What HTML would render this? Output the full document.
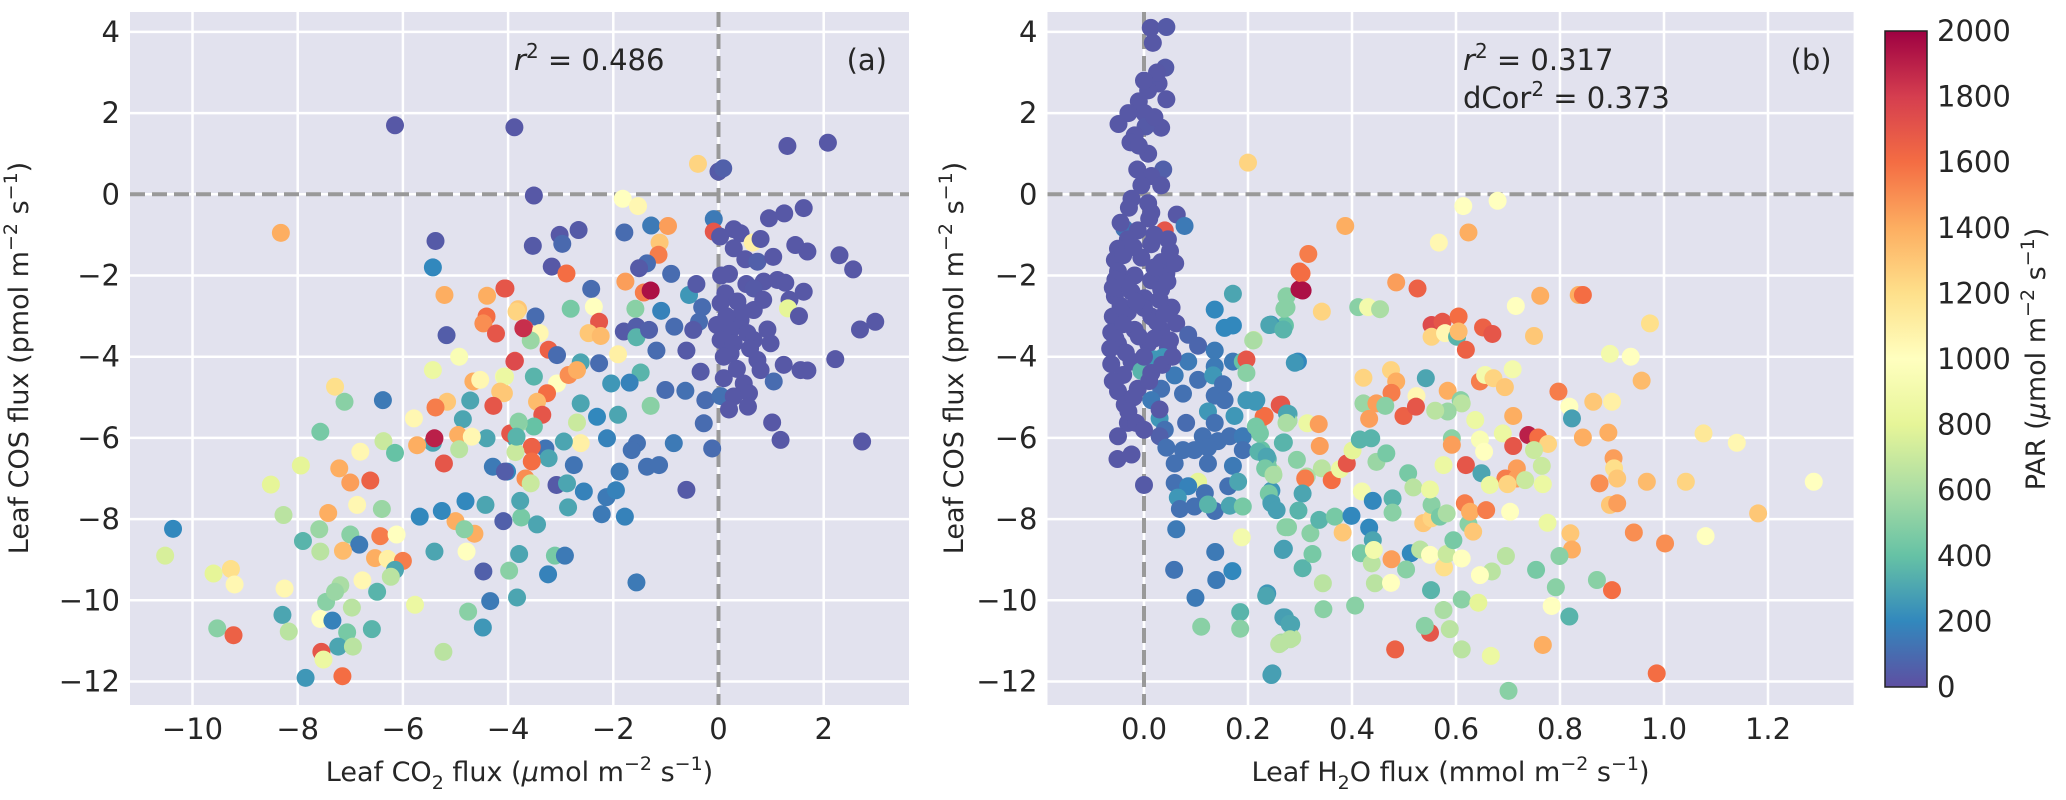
<!DOCTYPE html>
<html><head><meta charset="utf-8"><style>
html,body{margin:0;padding:0;background:#fff;}
svg text{font-family:"DejaVu Sans","Liberation Sans",sans-serif;fill:#262626;}
</style></head><body>
<svg id="chart" xmlns="http://www.w3.org/2000/svg" width="2066" height="795" viewBox="0 0 2066 795">
<defs>
<linearGradient id="cbgrad" x1="0" y1="1" x2="0" y2="0">
<stop offset="0" stop-color="#5e4fa2"/><stop offset="0.1" stop-color="#3288bd"/><stop offset="0.2" stop-color="#66c2a5"/><stop offset="0.3" stop-color="#abdda4"/><stop offset="0.4" stop-color="#e6f598"/><stop offset="0.5" stop-color="#ffffbf"/><stop offset="0.6" stop-color="#fee08b"/><stop offset="0.7" stop-color="#fdae61"/><stop offset="0.8" stop-color="#f46d43"/><stop offset="0.9" stop-color="#d53e4f"/><stop offset="1" stop-color="#9e0142"/>
</linearGradient>
</defs>
<g id="panelA"></g>
<g id="panelB"></g>
<g id="cbar"></g>
</svg>
<script>
const yTicks=[4,2,0,-2,-4,-6,-8,-10,-12];
const yTickLabels=["4","2","0","−2","−4","−6","−8","−10","−12"];
const aXTicks=[-10,-8,-6,-4,-2,0,2];
const aXTickLabels=["−10","−8","−6","−4","−2","0","2"];
const bXTicks=[0,0.2,0.4,0.6,0.8,1.0,1.2];
const bXTickLabels=["0.0","0.2","0.4","0.6","0.8","1.0","1.2"];
const cbTicks=[0,200,400,600,800,1000,1200,1400,1600,1800,2000];
const cbTickLabels=["0","200","400","600","800","1000","1200","1400","1600","1800","2000"];

const aX=[-6.15,-3.88,-3.51,-0.39,0,0.09,1.31,2.08,-1.82,-1.53,-0.09,-0.09,-1.28,-0.96,-1.79,-1.12,-1.14,-1.36,-1.51,-0.9,-3.53,-3.02,-2.97,-2.66,-3.17,-2.89,-4.05,-2.42,-2.81,-2.37,-2.27,-2.47,-2.24,-3.81,-3.48,-3.69,-3.40,-3.57,-3.23,-3.07,-3.87,-1.77,-1.42,-1.29,-1.58,-1.09,-1.80,-1.56,-1.56,-1.32,-0.84,-0.56,-0.42,-0.31,-0.37,-0.48,-1.18,-1.91,-0.61,-2.27,-2.62,-1.48,-2.04,-1.69,-1.01,-0.63,-0.34,-0.25,0.04,-0.28,-0.12,-0.85,-1.29,-1.91,-2.31,-2.62,-2.69,-2.62,-2.12,-1.55,-1.65,-1.88,-1.36,-1.13,-0.61,-3.08,-2.88,-2.56,-2.94,-3.29,-3.23,-2.75,-3.51,-3.07,-3.26,-3.45,-2.85,-2.69,-4.08,-4.08,-3.35,-3.51,-3.8,-3.86,-3.55,-3.55,-3.86,-4.02,-3.67,-3.57,
0.29,0.42,0.03,0.96,1.25,1.62,0.65,1.46,1.69,0.29,0.51,0.74,1.04,2.56,0.20,0.53,0.86,1.12,1.27,0.67,1.62,1.35,1.32,1.53,0.13,0.36,0.04,0.67,0.42,-0.03,0.23,0.55,0.93,0.04,0.29,0.67,0.99,0.23,0.74,1.24,1.56,1.69,0.80,0.48,1.05,0.10,0.29,0.58,0.56,1.02,1.18,2.22,2.69,2.98,2.73,0.15,0.45,0.1,0.35,0.6,0.85,0.2,0.05,0.8,2.3,
-8.32,-5.38,-5.43,-5.21,-4.40,-4.07,-3.84,-4.41,-4.47,-4.23,-5.17,-3.71,-4.93,-3.88,-5.43,-4.66,-4.53,-4.06,-4.15,-4.28,-4.72,-5.16,-5.38,-4.86,-5.79,-7.29,-7.11,-6.38,-7.57,-4.41,-4.95,-4.69,-3.96,-3.80,-3.84,-5.43,-5.40,-6.37,-6.15,-5.73,-6.81,-7.94,-7.21,-4.93,-5.22,-4.29,-4.06,
-7.0,-6.62,-8.51,-7.42,-6.87,-6.40,-8.27,-10.37,-7.59,-7.9,-7.57,-7.0,-6.83,-7.14,-6.43,-6.12,-6.53,-6.29,-6.0,-6.15,-6.23,-10.52,-9.6,-9.27,-9.2,-8.25,-8.29,-8.17,-9.53,-9.22,-7.46,-7.19,-7.29,-6.97,-7.57,-7.34,-7.06,-6.59,-7.23,-6.95,-7.55,-7.51,-7.85,-7.15,-6.77,-6.49,-5.77,-4.76,-4.48,-5.23,-4.34,-3.83,-4.47,-3.98,-4.79,-5.4,-3.79,-3.24,-3.11,-2.92,-1.56,-4.09,-3.75,-3.45,-4.64,-5.0,-4.83,-5.68,-5.26,-4.81,-4.43,-3.77,-2.86,-2.22,-1.78,-2.13,-1.95];
const aY=[1.7,1.65,-0.03,0.75,0.56,0.64,1.19,1.27,-0.11,-0.29,-0.61,-0.92,-0.77,-0.78,-0.94,-1.19,-1.49,-1.70,-1.82,-1.96,-1.27,-1.0,-1.22,-0.88,-1.78,-1.95,-2.32,-2.33,-2.82,-2.77,-3.14,-3.42,-3.49,-2.83,-3.01,-3.30,-3.42,-3.60,-3.83,-3.96,-4.1,-2.15,-2.42,-2.37,-2.82,-2.87,-3.38,-3.26,-3.52,-3.34,-3.26,-2.48,-2.21,-2.78,-3.14,-3.34,-3.85,-3.94,-3.85,-4.16,-4.14,-4.39,-4.66,-4.64,-4.82,-4.84,-4.37,-5.07,-4.97,-5.64,-6.26,-6.13,-5.21,-5.43,-5.48,-5.15,-5.62,-6.13,-6.01,-6.13,-6.30,-6.83,-6.71,-6.67,-7.28,-7.16,-7.12,-7.32,-6.09,-6.26,-6.50,-6.67,-4.49,-4.66,-4.90,-5.11,-4.45,-4.33,-4.49,-4.9,-5.43,-5.72,-5.64,-6.01,-6.22,-6.58,-6.35,-6.83,-7.0,-7.12,
-0.86,-0.96,-1.04,-0.59,-0.47,-0.34,-1.19,-1.25,-1.41,-1.33,-1.6,-1.66,-1.54,-1.85,-1.96,-2.21,-2.15,-2.11,-2.18,-2.32,-2.4,-2.6,-2.81,-3.0,-2.44,-2.64,-2.68,-2.85,-3.1,-3.22,-3.34,-3.42,-3.33,-3.59,-3.67,-3.59,-3.67,-3.92,-4.08,-4.2,-4.33,-4.34,-4.33,-4.66,-4.61,-4.53,-4.98,-4.9,-5.23,-5.62,-6.05,-4.06,-3.33,-3.14,-6.09,-3.0,-2.9,-4.0,-4.3,-3.8,-2.6,-5.3,-2.0,-1.1,-1.5,
-0.95,-1.15,-1.8,-2.48,-2.5,-2.32,-2.89,-3.01,-3.18,-3.43,-3.47,-3.3,-4.0,-4.12,-4.33,-4.61,-4.57,-4.49,-4.86,-5.21,-5.08,-5.11,-5.25,-5.54,-5.52,-4.74,-5.11,-5.07,-5.85,-6.01,-5.93,-5.97,-5.89,-5.60,-5.97,-6.12,-6.01,-6.08,-6.37,-6.18,-6.34,-6.68,-6.75,-6.28,-6.63,-6.71,-6.83,
-7.1,-7.05,-7.15,-7.85,-7.65,-7.75,-7.9,-8.24,-8.25,-8.54,-8.8,-8.38,-8.63,-8.78,-8.42,-8.38,-8.96,-8.98,-9.03,-9.25,-9.42,-8.9,-9.34,-9.23,-9.61,-9.71,-10.36,-10.77,-10.69,-10.86,-10.04,-9.63,-9.79,-10.18,-10.46,-10.5,-10.79,-10.71,-11.14,-11.14,-11.27,-11.46,-11.91,-11.87,-9.51,-9.79,-10.11,-10.28,-10.67,-11.27,-10.02,-9.93,-9.29,-9.27,-8.80,-8.80,-8.86,-9.36,-8.90,-8.90,-9.56,-8.05,-7.96,-8.13,-8.36,-8.05,-8.25,-7.94,-7.80,-7.56,-7.65,-7.55,-7.71,-7.88,-7.94,-7.46,-7.29];
const aPAR=[30,30,30,1250,40,60,30,30,1000,1050,150,1700,150,1450,100,1300,1550,100,40,100,40,30,90,40,30,1600,1700,100,450,1000,1700,1300,1350,1300,100,1750,1050,550,1650,100,1700,1450,1550,1950,500,180,40,50,350,60,100,250,40,100,100,40,100,1100,40,100,300,350,250,180,100,120,40,100,120,100,100,150,500,300,200,300,700,1100,180,120,120,150,120,120,40,40,300,180,300,130,300,130,350,1000,1600,1350,1500,1400,900,1300,1700,400,550,300,1650,1600,700,200,1500,700,
30,30,30,30,30,30,1100,30,30,30,30,60,30,30,30,30,30,30,30,40,30,30,800,30,30,30,30,30,30,30,30,30,30,30,30,30,30,30,30,30,30,30,30,30,100,30,30,30,30,30,30,30,30,30,30,30,30,30,30,30,30,30,30,30,30,
1400,40,200,1400,1400,1700,1250,1600,1500,1700,50,1850,950,1750,850,1400,1050,850,1300,1700,300,1300,1550,300,1050,1200,500,150,450,300,1400,1050,1700,500,350,300,1900,700,400,1400,1050,800,1400,650,1700,150,50,
1450,1650,800,1400,1050,550,650,200,550,350,650,500,150,1350,1550,1000,1400,1100,1550,300,650,750,800,1200,1050,1050,300,650,500,1650,500,600,550,650,1000,180,450,350,300,650,1700,850,250,1600,1050,350,850,500,250,650,150,300,60,500,1000,300,300,180,450,150,150,60,450,300,1400,1400,500,200,200,200,300,300,300,150,180,150,180];

const bX=[0.013,0.043,0.017,0.041,0.028,0.008,0.043,-0.010,0.001,-0.049,0.033,0.003,-0.018,-0.026,0.008,-0.013,0.037,0.014,-0.005,0.033,-0.024,0.008,-0.029,0.014,0.063,0.078,-0.038,0.04,-0.012,0.046,-0.031,-0.05,0.014,-0.056,-0.005,0.033,-0.05,-0.018,0.043,0.014,-0.056,-0.024,0.033,0.001,0.053,-0.06,-0.031,0.014,0.062,-0.063,-0.018,0.033,0.085,0.104,-0.05,0.008,0.046,0.136,-0.063,-0.024,0.021,0.037,-0.005,0.014,0.085,0.136,0.171,0.059,0.104,0.133,0.152,-0.05,-0.012,0.033,0.075,0.136,0.155,-0.037,0.014,0.197,0.216,0.123,0.174,0.03,-0.031,-0.015,0.081,0.136,0.04,-0.05,0.03,0.113,0.142,0.165,0.19,0.043,0.075,0.097,0.123,0.19,-0.051,-0.024,0.059,0.123,0.171,0.238,0.226,0.248,0.104,0.059,0,0.085,0.162,0.181,0.117,0.065,0.069,0.097,0.136,0.165,0.19,0.245,0.123,0.19,0.197,0.197,0.171,0.136,0.155,0.171,0.211,0.2,0.188,0.062,0.137,0.058,0.139,0.17,0.099,0.11,0.185,0.185,0.237,0.271,0.283,0.264,0.285,0.247,0.269,0.277,0.269,0.271,0.274,0.274,0.244,0.299,0.299,0.264,0.232,0.219,0.278,0.278,0.296,0.238,0.245,
-0.04,0.02,-0.035,0.03,-0.045,0.0,0.025,-0.04,-0.01,0.02,-0.055,-0.035,0.0,0.035,-0.04,0.01,-0.02,0.03,-0.055,0.045,-0.015,0.05,-0.02,0.02,-0.06,0.055,-0.03,0.0,-0.065,0.04,0.06,-0.06,0.01,-0.01,0.02,-0.03,0.025,0.0,-0.045,0.05,
0.387,0.316,0.303,0.305,0.27,0.342,0.241,0.268,0.21,0.29,0.412,0.431,0.454,0.485,0.526,0.567,0.614,0.68,0.624,0.553,0.574,0.605,0.553,0.579,0.602,0.605,0.619,0.652,0.67,0.715,0.75,0.762,0.836,0.422,0.475,0.485,0.476,0.524,0.542,0.584,0.609,0.611,0.584,0.56,0.422,0.447,0.464,0.499,0.523,0.433,0.261,0.23,0.275,0.274,0.314,0.336,0.214,0.215,0.223,0.267,0.338,0.220,0.236,0.233,0.249,0.294,0.342,0.313,0.31,0.361,0.377,0.39,0.401,0.415,0.437,0.447,0.466,0.305,0.24,0.245,0.255,0.297,0.272,0.32,0.337,0.367,0.399,0.419,0.44,0.478,0.478,0.433,0.44,0.382,0.267,0.305,0.324,0.417,0.438,0.442,0.476,0.513,0.531,0.504,0.444,0.475,0.344,0.235,0.345,0.406,0.268,0.28,0.26,0.281,0.245,0.483,0.55,0.54,0.552,0.576,0.588,0.611,0.667,0.701,0.611,0.643,0.55,0.577,0.582,0.611,0.595,0.624,0.633,0.617,0.627,0.658,0.704,0.537,0.553,0.553,0.569,0.582,0.508,0.518,0.55,0.576,0.592,0.592,0.619,0.649,0.637,0.646,0.654,0.646,0.656,0.672,0.694,0.71,0.69,0.709,0.71,0.739,0.758,0.777,0.75,0.765,0.717,0.695,0.717,0.733,0.767,0.665,0.699,0.797,0.818,0.823,0.776,0.82,0.823,0.799,0.754,0.696,0.669,0.646,0.792,0.784,0.818,0.767,
0.844,0.973,0.896,0.936,0.957,0.864,0.9,0.844,0.893,1.076,1.14,0.903,0.904,0.91,0.876,0.967,1.042,1.288,0.896,0.91,1.181,0.942,1.002,1.08,0.871,0.9,0.986];
const bY=[4.10,4.12,3.73,3.12,2.73,2.56,2.34,2.29,2.0,1.73,1.64,1.67,1.45,1.28,1.0,0.61,0.61,0.45,0.22,0.22,-0.11,-0.22,-0.33,-0.45,-0.5,-0.78,-0.84,-0.89,-0.89,-1.11,-1.11,-1.34,-1.23,-1.62,-1.56,-1.67,-1.9,-2.0,-1.95,-2.12,-2.51,-2.4,-2.34,-2.56,-2.79,-3.01,-2.9,-3.01,-3.18,-3.4,-3.34,-3.34,-3.46,-3.73,-3.68,-3.68,-3.79,-3.85,-4.18,-4.12,-4.07,-4.01,-4.35,-4.4,-4.12,-4.24,-4.12,-4.46,-4.57,-4.46,-4.68,-4.85,-4.79,-4.79,-4.91,-4.96,-5.07,-5.18,-5.07,-5.07,-5.07,-5.35,-5.46,-5.52,-5.63,-5.63,-5.63,-5.63,-5.8,-5.96,-5.96,-5.96,-6.08,-5.96,-5.96,-6.24,-6.3,-6.3,-6.24,-6.3,-6.52,-6.41,-6.63,-6.63,-6.69,-6.52,-6.3,-6.86,-7.08,-7.11,-7.16,-7.19,-7.19,-7.08,-7.36,-7.47,-7.75,-7.69,-7.8,-7.67,-7.69,-7.3,-7.64,-4.12,-4.07,-4.4,-2.45,-2.84,-3.29,-3.23,-3.59,0.78,-8.45,-8.25,-8.81,-9.25,-9.5,-9.28,-9.94,-10.65,-10.29,-10.7,-9.83,-10.42,-10.59,-11.04,-10.93,-11.8,-8.73,-8.2,-6.11,-3.23,-2.79,-2.51,-3.21,-1.9,-2.34,-5.18,-5.46,-5.74,-5.41,-5.57,-4.12,-6.69,-7.58,
-1.5,-1.8,-2.2,-2.6,-2.75,-2.8,-3.15,-3.2,-3.5,-3.55,-3.55,-3.9,-4.0,-4.2,-4.45,-4.6,-5.0,-5.3,-2.1,-2.15,-2.65,-3.6,-1.3,-1.0,-4.6,-4.0,-5.35,-5.8,-3.8,-2.95,-1.7,-2.3,-0.6,1.2,1.9,2.0,3.0,2.8,-0.7,-1.4,
-0.78,-1.47,-1.95,-2.37,-2.82,-2.89,-3.22,-3.33,-3.6,-4.15,-2.78,-2.78,-2.83,-2.17,-2.32,-1.19,-0.29,-0.16,-0.94,-3.22,-3.14,-3.01,-3.51,-3.42,-3.51,-3.38,-3.83,-3.28,-3.44,-2.75,-3.49,-2.5,-2.48,-4.52,-4.33,-4.61,-4.89,-4.97,-4.53,-4.84,-5.07,-5.15,-5.35,-5.33,-5.15,-5.15,-5.21,-5.46,-5.23,-5.53,-5.19,-5.48,-5.4,-5.63,-5.64,-5.66,-5.11,-5.72,-5.89,-6.12,-6.2,-6.34,-6.46,-6.75,-6.91,-6.54,-6.75,-6.95,-7.0,-7.04,-6.77,-6.63,-6.31,-6.04,-6.01,-6.59,-6.38,-7.37,-7.37,-7.61,-7.78,-7.79,-8.2,-8.35,-8.02,-7.94,-7.92,-7.32,-7.55,-7.49,-7.84,-8.21,-8.52,-8.33,-8.76,-9.21,-8.86,-8.84,-9.09,-8.76,-8.99,-8.84,-8.75,-9.24,-9.58,-9.57,-9.58,-9.89,-10.22,-10.13,-10.42,-10.58,-11.08,-10.96,-11.84,-11.21,-10.8,-10.63,-9.75,-10.24,-10.71,-11.21,-11.37,-12.23,-9.98,-10.06,-8.88,-9.19,-8.86,-8.97,-8.52,-8.12,-8.31,-7.61,-7.82,-7.78,-7.82,-8.1,-7.98,-7.65,-7.94,-7.86,-6.87,-7.22,-7.27,-6.67,-6.01,-6.17,-6.67,-6.87,-5.56,-6.04,-6.34,-4.61,-4.45,-4.53,-4.75,-5.46,-5.89,-4.31,-6.2,-5.93,-5.99,-6.15,-6.3,-6.69,-6.75,-7.0,-7.0,-7.04,-7.14,-7.16,-7.14,-4.86,-5.23,-5.52,-8.09,-8.35,-8.75,-8.91,-9.25,-8.91,-9.29,-9.38,-9.68,-10.14,-10.4,-11.1,
-2.48,-3.18,-3.93,-4.0,-4.59,-5.11,-5.11,-5.99,-5.87,-5.89,-6.12,-6.5,-6.75,-7.0,-7.12,-7.08,-7.08,-7.08,-7.65,-7.61,-7.86,-8.33,-8.6,-8.42,-9.5,-9.75,-11.8];
const bPAR=[30,40,30,40,30,30,30,30,30,30,30,40,30,30,30,30,60,30,30,30,30,30,30,30,30,150,130,1700,30,30,30,30,30,30,30,30,30,30,30,30,30,30,30,30,30,30,30,30,30,30,30,30,80,80,30,30,30,150,30,30,250,250,350,30,150,150,150,150,120,250,120,30,30,120,120,120,120,30,150,250,250,250,250,250,30,30,100,120,120,30,60,120,120,120,150,120,120,120,120,120,30,30,120,120,150,350,400,650,800,120,40,180,120,300,120,250,120,120,120,300,450,250,350,400,1700,500,300,200,200,200,700,1250,900,150,150,130,150,200,150,500,350,500,250,300,300,600,650,280,280,500,350,400,500,500,250,1600,1950,1700,1600,500,300,600,200,450,300,
30,30,30,30,30,30,30,30,30,30,30,30,30,30,30,30,30,30,30,30,30,30,30,30,30,30,30,30,30,30,30,30,30,30,30,30,30,30,30,30,
1400,1550,1600,1950,500,1250,300,350,600,250,500,900,600,1450,1650,1050,1000,1000,1400,1750,1700,1600,1250,1050,350,1350,1650,1650,1700,1000,1300,1400,1400,1250,1250,1400,1550,1050,300,1400,500,650,550,650,550,1450,500,1650,1700,1450,1700,1600,300,600,850,1450,250,450,450,350,1450,350,300,450,600,500,650,600,1550,1600,850,1700,800,350,350,550,450,300,450,280,280,350,500,500,350,450,200,900,200,350,500,200,300,1300,280,350,450,450,650,900,1450,200,650,500,650,1000,650,300,500,500,280,300,650,650,280,1650,1700,500,350,600,650,650,850,500,500,800,1000,1200,700,1000,450,500,1300,1550,1400,1550,1000,1300,1250,500,450,600,450,650,850,850,500,1450,1700,300,850,950,1000,1550,900,1250,1300,1400,850,900,1700,1900,1600,1250,700,700,1450,1550,1450,700,850,850,1250,1550,1000,280,850,1300,1400,500,450,650,650,1000,500,1000,350,
1400,1600,1200,900,1000,1350,1300,1100,1400,1400,1150,1050,1450,1200,1300,1500,1350,1250,1000,1300,1450,1300,1500,1500,1000,500,1600,1600];

const NS='http://www.w3.org/2000/svg';
const stops=[[94,79,162],[50,136,189],[102,194,165],[171,221,164],[230,245,152],[255,255,191],[254,224,139],[253,174,97],[244,109,67],[213,62,79],[158,1,66]];
function cmap(v){if(!isFinite(v))v=0;let t=Math.max(0,Math.min(1,v/2000))*10;let i=Math.min(9,Math.floor(t));let f=t-i;const a=stops[i],b=stops[i+1];
return 'rgb('+a.map((c,k)=>Math.round(c+(b[k]-c)*f)).join(',')+')';}
function mk(tag,attrs,parent){const e=document.createElementNS(NS,tag);for(const k in attrs)e.setAttribute(k,attrs[k]);parent.appendChild(e);return e;}

const TOP=12,BOT=705;
function yS(v){return 194.3-40.6*v;}
function xA(v){return 718.5+52.6*v;}
function xB(v){return 1144+520*v;}

function panel(gid,L,R,xS,xt,xtl,xs,ys,ps,xlabelParts,ylabX,letter,prefix){
  const g=document.getElementById(gid);
  const bg=mk('rect',{x:L,y:TOP,width:R-L,height:BOT-TOP,fill:'#e2e2ee'},g);
  
  
  yTicks.forEach((v,i)=>{
    const ln=mk('line',{x1:L,x2:R,y1:yS(v),y2:yS(v),stroke:'#fff','stroke-width':2.5},g);
    
    
    const t=mk('text',{x:L-10,y:yS(v)+10,'text-anchor':'end','font-size':29},g);
    t.textContent=yTickLabels[i];
    
    
  });
  xt.forEach((v,i)=>{
    const ln=mk('line',{x1:xS(v),x2:xS(v),y1:TOP,y2:BOT,stroke:'#fff','stroke-width':2.5},g);
    
    
    const t=mk('text',{x:xS(v),y:739,'text-anchor':'middle','font-size':29},g);
    t.textContent=xtl[i];
    
    
  });
  const hz=mk('line',{x1:L,x2:R,y1:yS(0),y2:yS(0),stroke:'#999','stroke-width':4,'stroke-dasharray':'15,7'},g);
  
  
  const vt=mk('line',{x1:xS(0),x2:xS(0),y1:TOP,y2:BOT,stroke:'#999','stroke-width':4,'stroke-dasharray':'15,7'},g);
  
  
  const n=Math.min(xs.length,ys.length);
  for(let i=0;i<n;i++){
    const c=mk('circle',{cx:xS(xs[i]),cy:yS(ys[i]),r:9,fill:cmap(ps[i])},g);
    
    
  }
  const xl=mk('text',{x:(L+R)/2,y:781,'text-anchor':'middle','font-size':27},g);
  xl.innerHTML=xlabelParts;
  
  
  const yl=mk('text',{x:0,y:0,'text-anchor':'middle','font-size':27,transform:'translate('+ylabX+',358) rotate(-90)'},g);
  yl.innerHTML='Leaf COS flux (pmol m<tspan dy="-11" font-size="19">−2</tspan><tspan dy="11"> s</tspan><tspan dy="-11" font-size="19">−1</tspan><tspan dy="11">)</tspan>';
  
  
  const lt=mk('text',{x:R-22,y:70,'text-anchor':'end','font-size':29},g);
  lt.textContent=letter;
  
  
}
panel('panelA',130,909,xA,aXTicks,aXTickLabels,aX,aY,aPAR,'Leaf CO<tspan dy="8" font-size="19">2</tspan><tspan dy="-8"> flux (</tspan><tspan font-style="italic">μ</tspan>mol m<tspan dy="-11" font-size="19">−2</tspan><tspan dy="11"> s</tspan><tspan dy="-11" font-size="19">−1</tspan><tspan dy="11">)</tspan>',28,'(a)','panel-a');
panel('panelB',1047.5,1853.6,xB,bXTicks,bXTickLabels,bX,bY,bPAR,'Leaf H<tspan dy="8" font-size="19">2</tspan><tspan dy="-8">O flux (mmol m</tspan><tspan dy="-11" font-size="19">−2</tspan><tspan dy="11"> s</tspan><tspan dy="-11" font-size="19">−1</tspan><tspan dy="11">)</tspan>',963,'(b)','panel-b');

const gA=document.getElementById('panelA');
const ra=mk('text',{x:514,y:70,'font-size':29},gA);
ra.innerHTML='<tspan font-style="italic">r</tspan><tspan dy="-12" font-size="20">2</tspan><tspan dy="12"> = 0.486</tspan>';


const gB=document.getElementById('panelB');
const rb=mk('text',{x:1463,y:70,'font-size':29},gB);
rb.innerHTML='<tspan font-style="italic">r</tspan><tspan dy="-12" font-size="20">2</tspan><tspan dy="12"> = 0.317</tspan>';


const db=mk('text',{x:1463,y:108,'font-size':29},gB);
db.innerHTML='dCor<tspan dy="-12" font-size="20">2</tspan><tspan dy="12"> = 0.373</tspan>';



const cb=document.getElementById('cbar');
const CT=31,CB=687,CL=1885,CR=1927;
function yC(v){return CB-(v/2000)*(CB-CT);}
const cr=mk('rect',{x:CL,y:CT,width:CR-CL,height:CB-CT,fill:'url(#cbgrad)',stroke:'#222','stroke-width':1.5},cb);


cbTicks.forEach((v,i)=>{
  const t=mk('text',{x:CR+10,y:yC(v)+10,'font-size':29},cb);
  t.textContent=cbTickLabels[i];
  
  
});
const cl=mk('text',{x:0,y:0,'text-anchor':'middle','font-size':27,transform:'translate(2045,359) rotate(-90)'},cb);
cl.innerHTML='PAR (<tspan font-style="italic">μ</tspan>mol m<tspan dy="-11" font-size="19">−2</tspan><tspan dy="11"> s</tspan><tspan dy="-11" font-size="19">−1</tspan><tspan dy="11">)</tspan>';


</script>
</body></html>
